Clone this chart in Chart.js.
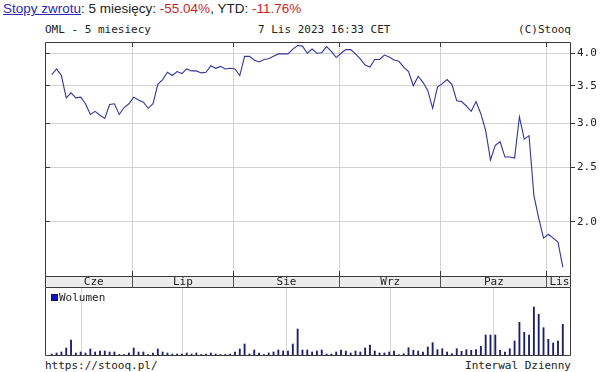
<!DOCTYPE html>
<html><head><meta charset="utf-8">
<script src="https://cdn.jsdelivr.net/npm/chart.js@4.4.0/dist/chart.umd.min.js"></script>
<style>
html,body{margin:0;padding:0;background:#fff;}
#wrap{position:relative;width:615px;height:372px;overflow:hidden;background:#fff;}
.mono{position:absolute;font-family:'DejaVu Sans Mono',monospace;font-size:11px;line-height:13px;color:#222;white-space:pre;}
#hdr{position:absolute;left:3px;top:1px;font-family:Arial,'Liberation Sans',sans-serif;font-size:13.5px;line-height:16px;color:#222;white-space:nowrap;}
#hdr a{color:#2a2ab4;text-decoration:underline;}
.neg{color:#cc1f1f;}
canvas{position:absolute;left:0;}
#leg{position:absolute;left:51px;top:291px;}
#leg i{display:inline-block;width:5px;height:5px;background:#1010c0;border:1px solid #101060;margin-right:1px;vertical-align:0px;}
</style></head>
<body><div id="wrap">
<div id="hdr"><a>Stopy zwrotu</a>: 5 miesięcy: <span class="neg">-55.04%</span>, YTD: <span class="neg">-11.76%</span></div>
<div class="mono" style="left:45px;top:23px">OML - 5 miesiecy</div>
<div class="mono" style="left:258px;top:23px">7 Lis 2023 16:33 CET</div>
<div class="mono" style="right:44px;top:23px">(C)Stooq</div>
<canvas id="pc" width="615" height="288" style="top:0"></canvas>
<canvas id="vc" width="615" height="70" style="top:288px"></canvas>
<div id="leg" class="mono"><i></i>Wolumen</div>
<div class="mono" style="left:45px;top:359px">https://stooq.pl/</div>
<div class="mono" style="right:44px;top:359px">Interwal Dzienny</div>
</div>
<script>
// ---- data (daily sessions, 7 Jun 2023 .. 7 Nov 2023) ----
const closePrices = [
 3.665,3.75,3.65,3.33,3.40,3.33,3.34,3.25,3.11,3.15,
 3.10,3.06,3.24,3.25,3.11,3.20,3.25,3.34,3.30,3.27,
 3.19,3.25,3.52,3.59,3.70,3.65,3.71,3.68,3.75,3.72,
 3.72,3.69,3.70,3.80,3.76,3.79,3.75,3.76,3.75,3.65,
 3.95,3.95,3.89,3.86,3.90,3.91,3.95,3.99,3.99,3.99,
 4.07,4.13,4.12,4.00,4.07,4.00,4.01,4.11,4.03,3.93,
 4.00,4.06,4.06,3.99,3.91,3.81,3.78,3.90,3.90,3.97,
 3.94,3.89,3.87,3.78,3.71,3.50,3.64,3.55,3.43,3.19,
 3.48,3.53,3.59,3.52,3.29,3.28,3.22,3.15,3.28,3.12,
 2.91,2.58,2.74,2.78,2.61,2.61,2.60,3.08,2.81,2.85,
 2.23,2.03,1.87,1.90,1.87,1.84,1.66
];
const volumes = [
 2,3,4,8,16,3,4,3,7,4,
 5,5,4,4,1.5,1.5,3,8,4,4,
 1.5,3,7,4,3,2,2,2,3,2,
 3,1.5,2,3,2,1.5,1.5,2,4,7,
 12,2,6,3,1.5,3,4,6,5,5,
 12,27,6,6,4,5,6,2,2,4,
 6,5,3,5,4,8,11,5,3,3,
 4,5,1.3,2.3,8.3,5.7,5,4,9,13.3,
 6.3,7.3,4,2.3,7.3,4.7,6.3,5.7,6.3,9.7,
 21,21,21,5.7,4,7.3,15,33.7,23.7,21,
 49,41.7,28.3,16.7,13,15,31.7
];
const monthNames = ['Cze','Lip','Sie','Wrz','Paz','Lis'];
const monthStartIdx = [17, 38, 60, 81, 103];          // first session of Lip..Lis
const monthLabelAt = [8.7, 27.2, 48.7, 70.2, 91.7, 105.3];
const priceTicks = [2.0, 2.5, 3.0, 3.5, 4.0];

const X_MIN = -1.4, X_MAX = 107.7;
const MONO = "'DejaVu Sans Mono', monospace";
const boundaries = monthStartIdx.map(i => i - 0.3);
const isBoundary = v => boundaries.some(b => Math.abs(b - v) < 1e-6);
const align = p => Math.round(p - 0.5) + 0.5;

const priceFrame = {
  id: 'priceFrame',
  beforeDraw(chart) {
    const {ctx, chartArea: a, scales: {x}} = chart;
    ctx.save();
    ctx.fillStyle = '#ececec';
    ctx.fillRect(a.left, x.top, a.right - a.left, x.bottom - x.top);
    ctx.restore();
  },
  afterDraw(chart) {
    const {ctx, chartArea: a, scales: {x, y}} = chart;
    ctx.save();
    ctx.strokeStyle = '#3a3a3a';
    ctx.lineWidth = 1;
    ctx.beginPath();
    const L = a.left + 0.5, R = a.right - 0.5, T = a.top + 0.5, B = a.bottom + 0.5, BB = x.bottom - 0.5;
    ctx.moveTo(L, T); ctx.lineTo(R, T); ctx.lineTo(R, BB); ctx.lineTo(L, BB); ctx.closePath();
    ctx.moveTo(L, B); ctx.lineTo(R, B);
    priceTicks.forEach(v => {
      const py = align(y.getPixelForValue(v));
      ctx.moveTo(a.left, py); ctx.lineTo(a.left + 5, py);
    });
    boundaries.forEach(b => {
      const px = align(x.getPixelForValue(b));
      ctx.moveTo(px, a.top); ctx.lineTo(px, a.top + 5);
      ctx.moveTo(px, a.bottom - 5); ctx.lineTo(px, a.bottom);
    });
    ctx.stroke();
    ctx.restore();
  }
};

new Chart(document.getElementById('pc'), {
  type: 'line',
  data: {
    datasets: [{
      label: 'OML',
      data: closePrices.map((p, i) => ({x: i, y: p})),
      borderColor: '#34349e',
      borderWidth: 1.1,
      pointRadius: 0,
      tension: 0,
      fill: false
    }]
  },
  options: {
    responsive: false,
    animation: false,
    events: [],
    layout: {padding: {left: 45, right: 0, top: 42, bottom: 0}},
    plugins: {legend: {display: false}, tooltip: {enabled: false}},
    scales: {
      x: {
        type: 'linear', position: 'bottom', min: X_MIN, max: X_MAX,
        afterBuildTicks: s => {
          s.ticks = boundaries.concat(monthLabelAt).sort((a, b) => a - b).map(v => ({value: v}));
        },
        afterFit: s => { s.height = 12; },
        grid: {
          color: c => (c.tick && isBoundary(c.tick.value)) ? '#d2d2d2' : 'rgba(0,0,0,0)',
          tickColor: c => (c.tick && isBoundary(c.tick.value)) ? '#555' : 'rgba(0,0,0,0)',
          tickLength: 12, lineWidth: 1
        },
        border: {display: false},
        ticks: {
          autoSkip: false, maxRotation: 0, minRotation: 0, padding: -12.6,
          color: '#222', font: {family: MONO, size: 11},
          callback: v => { const k = monthLabelAt.findIndex(m => Math.abs(m - v) < 1e-6); return k >= 0 ? monthNames[k] : ''; }
        }
      },
      y: {
        type: 'logarithmic', position: 'right', min: 1.6, max: 4.19,
        afterBuildTicks: s => { s.ticks = priceTicks.map(v => ({value: v})); },
        afterFit: s => { s.width = 44; },
        grid: {color: '#d2d2d2', tickColor: '#333', tickLength: 4, lineWidth: 1},
        border: {display: false},
        ticks: {
          padding: 2, color: '#222', font: {family: MONO, size: 11},
          callback: v => Number(v).toFixed(1)
        }
      }
    }
  },
  plugins: [priceFrame]
});

const volFrame = {
  id: 'volFrame',
  afterDraw(chart) {
    const {ctx, chartArea: a} = chart;
    ctx.save();
    ctx.strokeStyle = '#3a3a3a';
    ctx.lineWidth = 1;
    ctx.beginPath();
    ctx.moveTo(a.left + 0.5, 0); ctx.lineTo(a.left + 0.5, a.bottom - 0.5);
    ctx.lineTo(a.right - 0.5, a.bottom - 0.5); ctx.lineTo(a.right - 0.5, 0);
    ctx.stroke();
    ctx.restore();
  }
};

new Chart(document.getElementById('vc'), {
  type: 'bar',
  data: {
    datasets: [{
      label: 'Wolumen',
      data: volumes.map((v, i) => ({x: i, y: v})),
      backgroundColor: '#1d1d6e',
      barThickness: 1.2
    }]
  },
  options: {
    responsive: false,
    animation: false,
    events: [],
    layout: {padding: {left: 45, right: 44, top: 0, bottom: 2}},
    plugins: {legend: {display: false}, tooltip: {enabled: false}},
    scales: {
      x: {
        type: 'linear', min: X_MIN, max: X_MAX, offset: false,
        afterBuildTicks: s => { s.ticks = boundaries.map(v => ({value: v})); },
        afterFit: s => { s.height = 0; },
        ticks: {display: false},
        grid: {color: '#d6d6d6', drawTicks: false, lineWidth: 1},
        border: {display: false}
      },
      y: {min: 0, max: 68, display: false}
    }
  },
  plugins: [volFrame]
});
</script>
</body></html>
